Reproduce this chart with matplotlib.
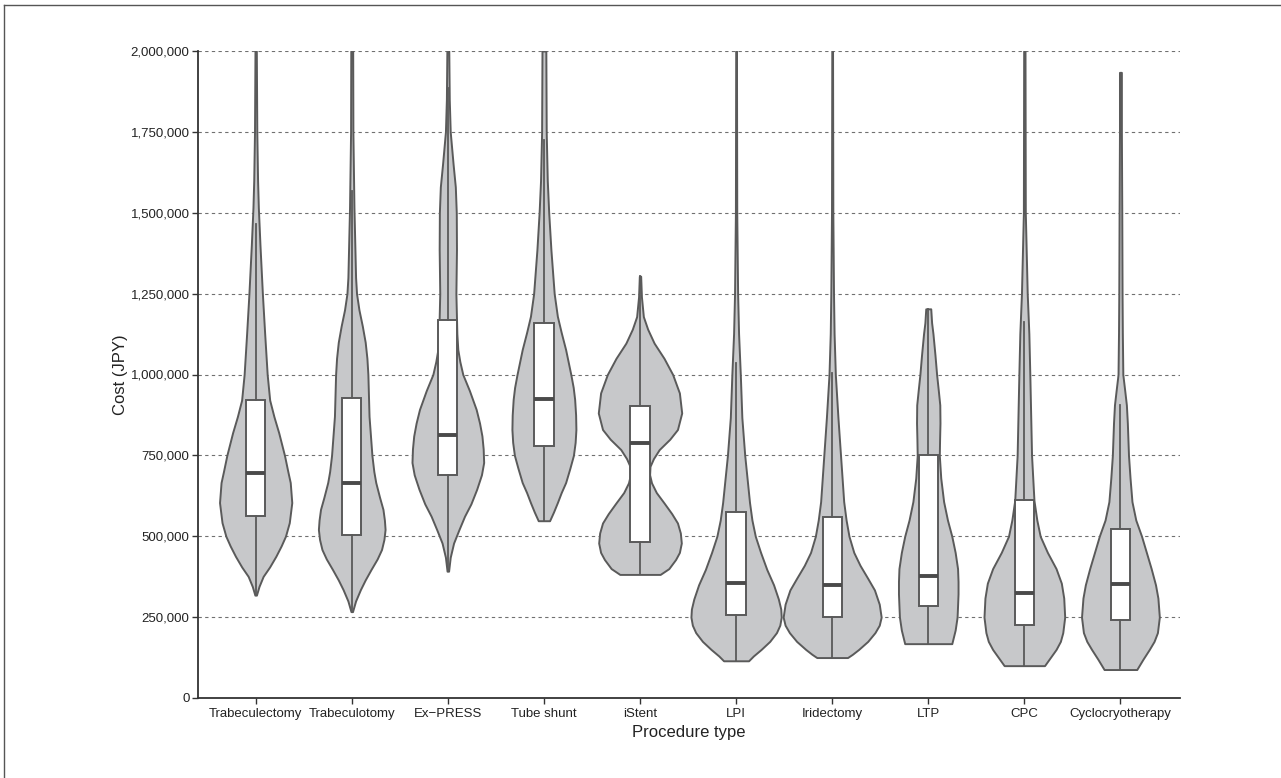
import matplotlib
matplotlib.use("Agg")
import matplotlib.pyplot as plt
from matplotlib.lines import Line2D
from matplotlib.ticker import FuncFormatter

procedures = ["Trabeculectomy", "Trabeculotomy", "Ex\u2212PRESS", "Tube shunt", "iStent",
              "LPI", "Iridectomy", "LTP", "CPC", "Cyclocryotherapy"]

# box statistics (JPY)
q1 = [562000, 505000, 688000, 779000, 481000, 258000, 250000, 283000, 227000, 240000]
median = [697000, 666000, 812000, 923000, 789000, 357000, 350000, 376000, 324000, 352000]
q3 = [921000, 928000, 1168000, 1158000, 902000, 575000, 558000, 750000, 611000, 523000]
whisker_lo = [318000, 267000, 392000, 548000, 382000, 115000, 125000, 168000, 100000, 88000]
whisker_hi = [1464000, 1568000, 1886000, 1724000, 1304000, 1036000, 1006000, 1203000, 1163000, 906000]

# violin outlines: cost level and half width (in category units)
trabeculectomy_cost = [2000000, 1750000, 1600000, 1516000, 1400000, 1250000, 1126000, 1000000,
                       921000, 870000, 820000, 750000, 700000, 666000, 604000, 542000,
                       500000, 470000, 438000, 405000, 376000, 345000, 318000]
trabeculectomy_width = [0.007, 0.012, 0.02, 0.028, 0.045, 0.07, 0.094, 0.12,
                        0.146, 0.19, 0.24, 0.3, 0.335, 0.36, 0.376, 0.35,
                        0.31, 0.265, 0.21, 0.145, 0.078, 0.035, 0.008]

trabeculotomy_cost = [2000000, 1750000, 1516000, 1300000, 1250000, 1200000, 1150000, 1100000,
                      1050000, 1000000, 871000, 750000, 700000, 666000, 620000, 583000,
                      550000, 521000, 490000, 459000, 430000, 397000, 365000, 335000,
                      300000, 267000]
trabeculotomy_width = [0.01, 0.012, 0.023, 0.04, 0.05, 0.075, 0.11, 0.14,
                       0.158, 0.168, 0.18, 0.21, 0.23, 0.25, 0.29, 0.325,
                       0.34, 0.347, 0.335, 0.31, 0.265, 0.2, 0.14, 0.09,
                       0.04, 0.008]

express_cost = [2000000, 1850000, 1750000, 1650000, 1580000, 1500000, 1386000, 1250000,
                1126000, 1077000, 1040000, 1000000, 950000, 892000, 850000, 810000,
                770000, 728000, 690000, 645000, 600000, 562000, 520000, 479000,
                435000, 392000]
express_width = [0.01, 0.015, 0.025, 0.055, 0.078, 0.088, 0.09, 0.084,
                 0.094, 0.104, 0.125, 0.156, 0.225, 0.295, 0.33, 0.355,
                 0.368, 0.373, 0.35, 0.30, 0.24, 0.174, 0.115, 0.06,
                 0.025, 0.008]

tube_cost = [2000000, 1750000, 1600000, 1500000, 1385000, 1250000, 1180000, 1130000,
             1077000, 1000000, 960000, 923000, 875000, 830000, 790000, 750000,
             710000, 666000, 635000, 604000, 575000, 548000]
tube_width = [0.02, 0.024, 0.035, 0.05, 0.073, 0.107, 0.14, 0.18,
              0.226, 0.28, 0.305, 0.32, 0.33, 0.333, 0.325, 0.307,
              0.27, 0.226, 0.18, 0.14, 0.1, 0.059]

istent_cost = [1304000, 1240000, 1179000, 1140000, 1097000, 1050000, 1000000, 943000,
               881000, 830000, 800000, 768000, 740000, 716000, 690000, 665000,
               635000, 603000, 570000, 541000, 510000, 479000, 450000, 428000,
               400000, 382000]
istent_width = [0.007, 0.015, 0.035, 0.08, 0.147, 0.25, 0.34, 0.41,
                0.434, 0.39, 0.31, 0.2, 0.14, 0.104, 0.1, 0.12,
                0.17, 0.25, 0.33, 0.39, 0.42, 0.43, 0.41, 0.37,
                0.3, 0.21]

lpi_cost = [2000000, 1500000, 1250000, 1126000, 1000000, 867000, 750000, 604000,
            550000, 500000, 450000, 397000, 350000, 306000, 275000, 250000,
            225000, 202000, 175000, 150000, 130000, 115000]
lpi_width = [0.004, 0.007, 0.016, 0.026, 0.044, 0.06, 0.09, 0.14,
             0.165, 0.2, 0.255, 0.32, 0.39, 0.44, 0.465, 0.47,
             0.455, 0.42, 0.35, 0.26, 0.18, 0.13]

iridectomy_cost = [2000000, 1500000, 1250000, 1126000, 1000000, 867000, 750000, 607000,
                   550000, 500000, 450000, 410000, 370000, 334000, 290000, 250000,
                   225000, 202000, 175000, 150000, 135000, 125000]
iridectomy_width = [0.004, 0.007, 0.014, 0.02, 0.033, 0.06, 0.087, 0.12,
                    0.145, 0.175, 0.225, 0.29, 0.37, 0.44, 0.49, 0.51,
                    0.49, 0.445, 0.37, 0.275, 0.21, 0.16]

ltp_cost = [1203000, 1160000, 1126000, 1060000, 1000000, 950000, 906000, 850000,
            800000, 750000, 680000, 607000, 550000, 500000, 450000, 400000,
            360000, 322000, 285000, 250000, 210000, 168000]
ltp_width = [0.026, 0.035, 0.049, 0.07, 0.087, 0.105, 0.12, 0.122,
             0.118, 0.115, 0.13, 0.16, 0.2, 0.245, 0.28, 0.305,
             0.31, 0.31, 0.305, 0.30, 0.28, 0.245]

cpc_cost = [2000000, 1500000, 1250000, 1126000, 1000000, 750000, 611000, 550000,
            500000, 450000, 400000, 355000, 309000, 250000, 202000, 175000,
            150000, 125000, 100000]
cpc_width = [0.007, 0.01, 0.03, 0.047, 0.057, 0.075, 0.1, 0.13,
             0.165, 0.24, 0.33, 0.385, 0.41, 0.42, 0.4, 0.375,
             0.33, 0.27, 0.21]

cyclo_cost = [1934000, 1750000, 1500000, 1250000, 1126000, 1000000, 950000, 906000,
              850000, 750000, 680000, 607000, 550000, 500000, 450000, 400000,
              350000, 309000, 250000, 202000, 175000, 150000, 120000, 88000]
cyclo_width = [0.01, 0.01, 0.014, 0.017, 0.02, 0.025, 0.045, 0.062,
               0.072, 0.084, 0.1, 0.12, 0.16, 0.22, 0.27, 0.32,
               0.365, 0.39, 0.405, 0.385, 0.35, 0.30, 0.235, 0.17]

yticks = [0, 250000, 500000, 750000, 1000000, 1250000, 1500000, 1750000, 2000000]

EDGE = "#5a5a5a"
FILL = "#c7c8ca"


def main():
    costs = [trabeculectomy_cost, trabeculotomy_cost, express_cost, tube_cost, istent_cost,
             lpi_cost, iridectomy_cost, ltp_cost, cpc_cost, cyclo_cost]
    widths = [trabeculectomy_width, trabeculotomy_width, express_width, tube_width, istent_width,
              lpi_width, iridectomy_width, ltp_width, cpc_width, cyclo_width]
    positions = list(range(len(procedures)))

    plt.rcParams["font.family"] = ["Liberation Sans", "DejaVu Sans"]
    fig = plt.figure(figsize=(12.81, 7.78), dpi=100)
    ax = fig.add_axes([198 / 1281, 80 / 778, 982 / 1281, 647 / 778])

    # violins
    vpstats = []
    for i in positions:
        vpstats.append({"coords": costs[i], "vals": widths[i],
                        "mean": median[i], "median": median[i],
                        "min": min(costs[i]), "max": max(costs[i])})
    parts = ax.violin(vpstats, positions=positions,
                      widths=[2 * max(w) for w in widths],
                      showextrema=False, showmeans=False, showmedians=False)
    for body in parts["bodies"]:
        body.set_facecolor(FILL)
        body.set_edgecolor(EDGE)
        body.set_linewidth(1.4)
        body.set_alpha(1)
        body.set_zorder(2)

    # boxes
    bstats = []
    for i in positions:
        bstats.append({"med": median[i], "q1": q1[i], "q3": q3[i],
                       "whislo": whisker_lo[i], "whishi": whisker_hi[i], "fliers": []})
    ax.bxp(bstats, positions=positions, widths=0.2, patch_artist=True,
           showcaps=False, showfliers=False,
           boxprops=dict(facecolor="white", edgecolor=EDGE, linewidth=1.4),
           whiskerprops=dict(color=EDGE, linewidth=1.3),
           medianprops=dict(color="#4a4a4a", linewidth=2.8, solid_capstyle="butt"),
           zorder=3)

    ax.set_xlim(-0.6, 9.62)
    ax.set_ylim(0, 2000000)
    ax.set_yticks(yticks)
    ax.yaxis.set_major_formatter(FuncFormatter(lambda v, p: "{:,}".format(int(v))))
    ax.set_xticks(positions)
    ax.set_xticklabels(procedures)

    ax.yaxis.grid(True, linestyle=(0, (3, 3)), color="#707070", linewidth=0.8)
    ax.set_axisbelow(True)

    for side in ["top", "right"]:
        ax.spines[side].set_visible(False)
    for side in ["left", "bottom"]:
        ax.spines[side].set_color("#333333")
        ax.spines[side].set_linewidth(1.3)
    ax.tick_params(axis="both", labelsize=9.5, colors="#333333", length=4, width=1,
                   labelcolor="#222222")
    ax.tick_params(axis="y", pad=2)

    ax.set_xlabel("Procedure type", fontsize=12, color="#222222", labelpad=3)
    ax.set_ylabel("Cost (JPY)", fontsize=12, color="#222222", labelpad=2)

    # thin frame round the figure (left and top edges are inside the picture)
    fig.add_artist(Line2D([4 / 1281, 4 / 1281], [0, 1 - 5 / 778],
                          transform=fig.transFigure, color="#555555", linewidth=1))
    fig.add_artist(Line2D([4 / 1281, 1], [1 - 5 / 778, 1 - 5 / 778],
                          transform=fig.transFigure, color="#555555", linewidth=1))

    fig.savefig("out.png", dpi=100)


if __name__ == "__main__":
    main()
